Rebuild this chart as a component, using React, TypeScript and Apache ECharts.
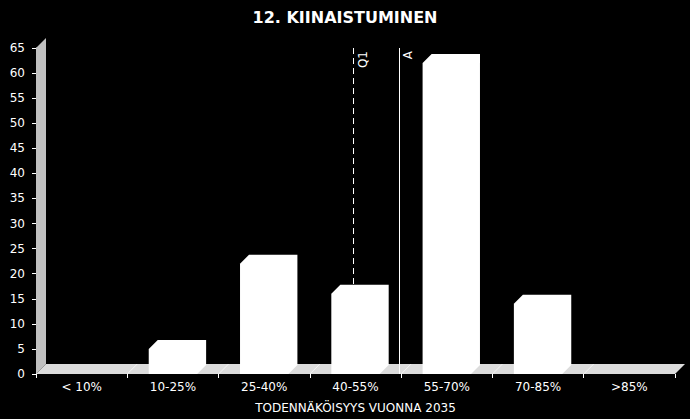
import React, { useEffect, useRef } from "react";
import * as echarts from "echarts";

// Data
const categories = ["< 10%", "10-25%", "25-40%", "40-55%", "55-70%", "70-85%", ">85%"];
const counts = [0, 5, 22, 16, 62, 14, 0];
const yTicks = { min: 0, max: 65, step: 5 };
// marker lines on a 0..7 position scale (one unit per category)
const markerNames = ["Q1", "A"];
const markerPositions = [3.48, 3.98];

const DEPTH = 10; // pseudo 3D offset in px
const FONT = "DejaVu Sans";

const App: React.FC = () => {
    const chartRef = useRef<HTMLDivElement>(null);

    useEffect(() => {
        const chart = echarts.init(chartRef.current!, null, { renderer: "svg" });

        chart.setOption({
            animation: false,
            backgroundColor: "#000",
            textStyle: { fontFamily: FONT, color: "#fff" },
            title: {
                text: "12. KIINAISTUMINEN",
                left: "center",
                top: 4,
                textStyle: { color: "#fff", fontSize: 16, fontWeight: "bold", fontFamily: FONT },
            },
            grid: { left: 36, right: 15, top: 48, bottom: 41 },
            xAxis: [
                {
                    type: "category",
                    data: categories,
                    boundaryGap: true,
                    name: "TODENNÄKÖISYYS VUONNA 2035",
                    nameLocation: "middle",
                    nameGap: 28,
                    nameTextStyle: { color: "#fff", fontSize: 12, fontFamily: FONT },
                    axisLine: { show: false },
                    axisTick: { show: true, length: 4, lineStyle: { color: "#fff" } },
                    axisLabel: { color: "#fff", fontSize: 12, margin: 7, fontFamily: FONT },
                    splitLine: { show: false },
                },
                {
                    type: "value",
                    min: 0,
                    max: categories.length,
                    show: false,
                },
            ],
            yAxis: {
                type: "value",
                min: yTicks.min,
                max: yTicks.max,
                interval: yTicks.step,
                offset: 2,
                axisLine: { show: true, lineStyle: { color: "#fff" } },
                axisTick: { show: true, length: 4, lineStyle: { color: "#fff" } },
                axisLabel: { color: "#fff", fontSize: 12, margin: 9, fontFamily: FONT },
                splitLine: { show: false },
            },
            series: [
                {
                    // back wall and floor
                    type: "custom",
                    z: 1,
                    clip: false,
                    silent: true,
                    data: [[0, 0]],
                    renderItem: (params: any) => {
                        const cs = params.coordSys;
                        const x0 = cs.x;
                        const x1 = cs.x + cs.width;
                        const yT = cs.y;
                        const yB = cs.y + cs.height;
                        const band = cs.width / categories.length;
                        const children: any[] = [
                            {
                                type: "polygon",
                                shape: { points: [[x0, yB], [x0, yT], [x0 + DEPTH, yT - DEPTH], [x0 + DEPTH, yB - DEPTH]] },
                                style: { fill: "#c0c0c0" },
                            },
                            {
                                type: "polygon",
                                shape: { points: [[x0, yB], [x1, yB], [x1 + DEPTH, yB - DEPTH], [x0 + DEPTH, yB - DEPTH]] },
                                style: { fill: "#dcdcdc" },
                            },
                        ];
                        for (let i = 1; i < categories.length; i++) {
                            const xb = x0 + band * i;
                            children.push({
                                type: "line",
                                shape: { x1: xb, y1: yB, x2: xb + DEPTH, y2: yB - DEPTH },
                                style: { stroke: "#f4f4f4", lineWidth: 1 },
                            });
                        }
                        return { type: "group", children };
                    },
                },
                {
                    // reference lines
                    type: "scatter",
                    xAxisIndex: 1,
                    z: 2,
                    data: [],
                    markLine: {
                        silent: true,
                        symbol: "none",
                        animation: false,
                        label: {
                            show: true,
                            position: "insideEndBottom",
                            distance: 3,
                            color: "#fff",
                            fontSize: 12,
                            fontFamily: FONT,
                            formatter: (p: any) => p.name,
                        },
                        data: markerNames.map((name, i) => ({
                            name,
                            xAxis: markerPositions[i],
                            lineStyle: {
                                color: "#fff",
                                width: 1,
                                type: name === "Q1" ? [6, 4] : "solid",
                            },
                        })),
                    },
                },
                {
                    // bars
                    type: "custom",
                    z: 3,
                    clip: false,
                    data: counts.map((v, i) => [i, v]),
                    renderItem: (params: any, api: any) => {
                        const v = api.value(1);
                        if (!v) return null;
                        const idx = api.value(0);
                        const base = api.coord([idx, 0]);
                        const top = api.coord([idx, v]);
                        const w = api.size([1, 0])[0] * 0.53;
                        const xL = base[0] - w / 2;
                        const xR = base[0] + w / 2;
                        const d = DEPTH - 1;
                        return {
                            type: "polygon",
                            shape: {
                                points: [
                                    [xL, base[1]],
                                    [xL, top[1]],
                                    [xL + d, top[1] - d],
                                    [xR + d, top[1] - d],
                                    [xR + d, base[1] - d],
                                    [xR, base[1]],
                                ],
                            },
                            style: { fill: "#fff" },
                        };
                    },
                },
            ],
        });

        return () => {
            chart.dispose();
        };
    }, []);

    return (
        <div
            ref={chartRef}
            style={{ position: "fixed", left: 0, top: 0, width: "690px", height: "419px" }}
        />
    );
};

export default App;
